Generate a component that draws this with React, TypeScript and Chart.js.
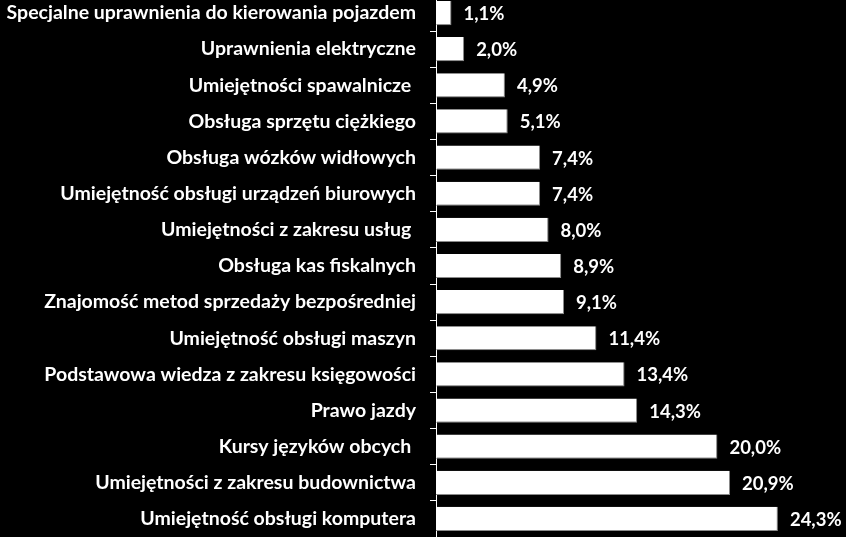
import React, { useEffect, useRef } from "react";
import { Chart, registerables } from "chart.js";

Chart.register(...registerables);

const categories = [
  "Specjalne uprawnienia do kierowania pojazdem",
  "Uprawnienia elektryczne",
  "Umiejętności spawalnicze ",
  "Obsługa sprzętu ciężkiego",
  "Obsługa wózków widłowych",
  "Umiejętność obsługi urządzeń biurowych",
  "Umiejętności z zakresu usług ",
  "Obsługa kas fiskalnych",
  "Znajomość metod sprzedaży bezpośredniej",
  "Umiejętność obsługi maszyn",
  "Podstawowa wiedza z zakresu księgowości",
  "Prawo jazdy",
  "Kursy języków obcych ",
  "Umiejętności z zakresu budownictwa",
  "Umiejętność obsługi komputera",
];

const values = [1.1, 2.0, 4.9, 5.1, 7.4, 7.4, 8.0, 8.9, 9.1, 11.4, 13.4, 14.3, 20.0, 20.9, 24.3];

const valueLabels = values.map((v) => v.toFixed(1).replace(".", ",") + "%");

const FONT = "Lato, 'Open Sans', sans-serif";

const valuePlugin = {
  id: "valueLabels",
  afterDatasetsDraw(chart: any) {
    const ctx = chart.ctx;
    const meta = chart.getDatasetMeta(0);
    ctx.save();
    ctx.fillStyle = "#ffffff";
    ctx.font = `bold 18.5px ${FONT}`;
    ctx.textAlign = "left";
    ctx.textBaseline = "middle";
    meta.data.forEach((bar: any, i: number) => {
      ctx.fillText(valueLabels[i], bar.x + 12, bar.y + 1);
    });
    ctx.restore();
  },
};

export default function App() {
  const ref = useRef<HTMLCanvasElement>(null);
  useEffect(() => {
    if (!ref.current) return;
    const chart = new Chart(ref.current, {
      type: "bar",
      data: {
        labels: categories,
        datasets: [
          {
            data: values,
            backgroundColor: "#ffffff",
            borderColor: "#8a8a8a",
            borderWidth: { top: 0, left: 0, right: 1, bottom: 1 } as any,
            borderSkipped: false,
            categoryPercentage: 0.67,
            barPercentage: 1,
          },
        ],
      },
      options: {
        indexAxis: "y",
        animation: false,
        responsive: false,
        maintainAspectRatio: false,
        layout: { padding: 0 },
        plugins: {
          legend: { display: false },
          tooltip: { enabled: false },
        },
        scales: {
          x: {
            display: false,
            min: 0,
            max: 29.14,
          },
          y: {
            offset: true,
            afterFit(scale: any) {
              scale.width = 436;
              scale.paddingTop = 0;
              scale.paddingBottom = 0;
            },
            border: { display: true, color: "#ffffff", width: 1 },
            grid: {
              display: true,
              drawOnChartArea: false,
              drawTicks: true,
              tickLength: 6,
              color: "#ffffff",
              offset: true,
            },
            ticks: {
              color: "#ffffff",
              padding: 14,
              autoSkip: false,
              font: { family: FONT, size: 19.5, weight: "bold" },
            },
          },
        },
      },
      plugins: [valuePlugin],
    });
    return () => chart.destroy();
  }, []);

  return (
    <div
      style={{
        position: "fixed",
        left: 0,
        top: -5,
        width: 846,
        height: 542,
        background: "#000",
      }}
    >
      <canvas ref={ref} width={846} height={542} style={{ display: "block" }} />
    </div>
  );
}
